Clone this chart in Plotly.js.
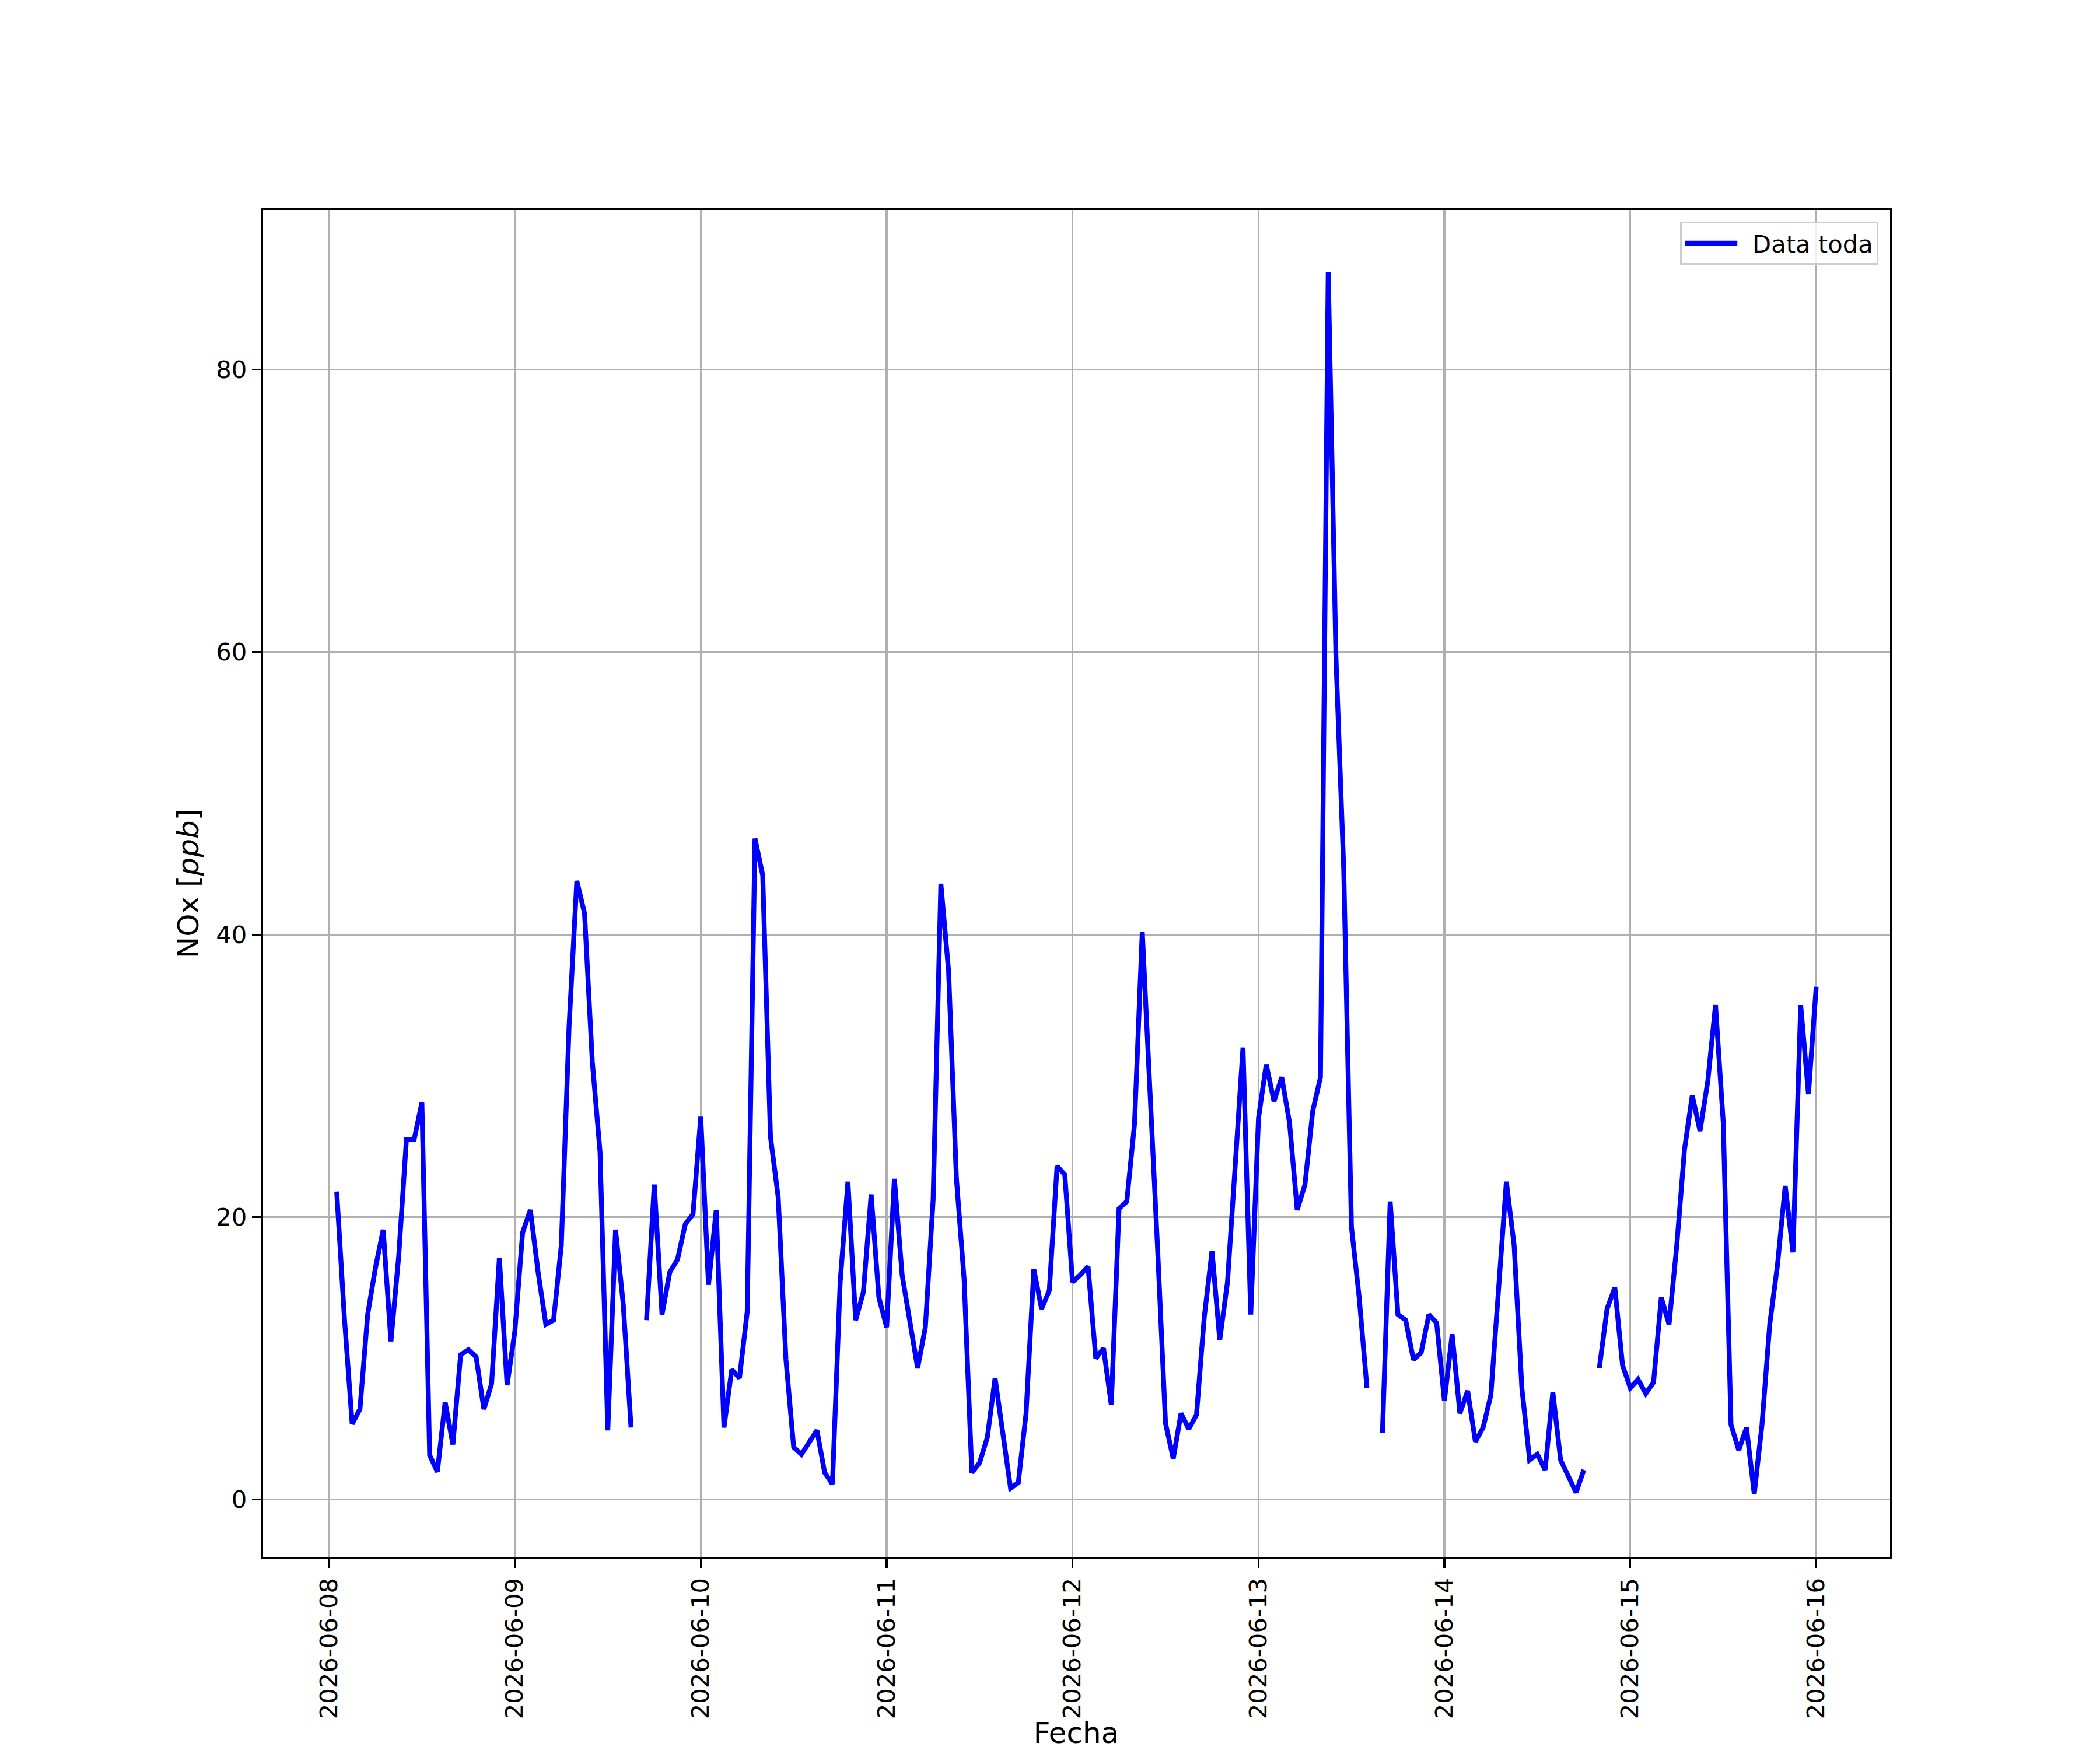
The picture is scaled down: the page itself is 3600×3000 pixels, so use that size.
<!DOCTYPE html>
<html>
<head>
<meta charset="utf-8">
<script src="https://cdn.plot.ly/plotly-3.0.1.min.js"></script>
<style>html,body{margin:0;padding:0;background:#fff;} #chart{width:3600px;height:3000px;}</style>
</head>
<body>
<div id="chart"></div>
<script>
// Hourly NOx values; each array holds hours 01:00 .. 24:00 (next day 00:00) of the given day
var days = ['2026-06-08','2026-06-09','2026-06-10','2026-06-11','2026-06-12','2026-06-13','2026-06-14','2026-06-15'];
var d08 = [21.8, 12.8, 5.35, 6.4, 13.1, 16.4, 19.1, 11.2, 17.2, 25.5, 25.5, 28.1, 3.15, 1.96, 6.9, 3.9, 10.25, 10.6, 10.1, 6.4, 8.2, 17.1, 8.1, 11.9];
var d09 = [18.9, 20.5, 16.1, 12.4, 12.7, 18.0, 33.5, 43.8, 41.5, 31.0, 24.6, 4.9, 19.1, 13.8, 5.1, null, 12.7, 22.3, 13.1, 16.1, 17.0, 19.5, 20.2, 27.1];
var d10 = [15.2, 20.5, 5.1, 9.2, 8.6, 13.3, 46.8, 44.2, 25.7, 21.4, 9.9, 3.7, 3.2, 4.0, 4.9, 1.9, 1.1, 15.4, 22.5, 12.7, 14.7, 21.6, 14.3, 12.2];
var d11 = [22.7, 15.9, 12.5, 9.3, 12.2, 21.2, 43.6, 37.4, 22.8, 15.6, 1.9, 2.6, 4.4, 8.6, 4.7, 0.8, 1.2, 6.1, 16.3, 13.5, 14.8, 23.6, 23.0, 15.4];
var d12 = [15.9, 16.5, 10.0, 10.7, 6.7, 20.6, 21.1, 26.6, 40.2, 29.5, 17.5, 5.4, 2.9, 6.1, 5.0, 6.0, 12.9, 17.6, 11.3, 15.4, 24.3, 32.0, 13.1, 27.0];
var d13 = [30.8, 28.2, 29.9, 26.7, 20.5, 22.3, 27.5, 29.9, 86.9, 59.6, 44.7, 19.3, 14.3, 7.9, null, 4.7, 21.1, 13.1, 12.7, 9.9, 10.4, 13.1, 12.5, 7.0];
var d14 = [11.7, 6.1, 7.7, 4.1, 5.1, 7.4, 15.0, 22.5, 18.0, 7.9, 2.8, 3.2, 2.1, 7.6, 2.8, 1.7, 0.5, 2.1, null, 9.3, 13.5, 15.0, 9.5, 7.9];
var d15 = [8.5, 7.5, 8.3, 14.3, 12.4, 18.0, 24.8, 28.6, 26.1, 29.6, 35.0, 26.7, 5.3, 3.5, 5.1, 0.4, 5.3, 12.4, 16.6, 22.2, 17.5, 35.0, 28.7, 36.3];
var dayValues = [d08, d09, d10, d11, d12, d13, d14, d15];
var seriesName = 'Data toda';
var xTitle = 'Fecha';
var yTitle = 'NOx [<i>ppb</i>]';

var x = [], y = [];
days.forEach(function (d, i) {
  var base = new Date(d + 'T00:00:00Z').getTime();
  dayValues[i].forEach(function (v, h) {
    var t = new Date(base + (h + 1) * 3600000);
    x.push(t.toISOString().slice(0, 19).replace('T', ' '));
    y.push(v);
  });
});

var font = 'DejaVu Sans, Liberation Sans, sans-serif';
var trace = {
  x: x, y: y, type: 'scatter', mode: 'lines', name: '\u2002' + seriesName,
  line: {color: '#0000ff', width: 8.3, shape: 'linear'},
  connectgaps: false, showlegend: true
};

var axisCommon = {
  showline: true, linecolor: '#000', linewidth: 3.3, mirror: true,
  ticks: 'outside', ticklen: 15, tickwidth: 3.3, tickcolor: '#000',
  showgrid: true, gridcolor: '#b0b0b0', gridwidth: 3.3,
  zeroline: false, automargin: false,
  tickfont: {family: font, size: 41.7, color: '#000'}
};

var layout = {
  width: 3600, height: 3000,
  margin: {l: 450, r: 360, t: 360, b: 330, pad: 0},
  paper_bgcolor: '#fff', plot_bgcolor: '#fff',
  font: {family: font, color: '#000'},
  showlegend: true,
  xaxis: Object.assign({}, axisCommon, {
    type: 'date', range: ['2026-06-07 15:25', '2026-06-16 09:32'],
    tick0: '2026-06-08', dtick: 86400000, tickformat: '%Y-%m-%d', tickangle: -90,
    title: {text: xTitle, font: {family: font, size: 50, color: '#000'}, standoff: 28}
  }),
  yaxis: Object.assign({}, axisCommon, {
    range: [-4.1, 91.3], tick0: 0, dtick: 20,
    title: {text: yTitle, font: {family: font, size: 50, color: '#000'}, standoff: 14}
  }),
  legend: {
    x: 0.9928, y: 0.9913, xanchor: 'right', yanchor: 'top',
    bgcolor: 'rgba(255,255,255,0.8)', bordercolor: '#cccccc', borderwidth: 3.3,
    font: {family: font, size: 41.7, color: '#000'}, itemwidth: 90
  }
};

Plotly.newPlot('chart', [trace], layout, {staticPlot: true, displayModeBar: false});
</script>
</body>
</html>
